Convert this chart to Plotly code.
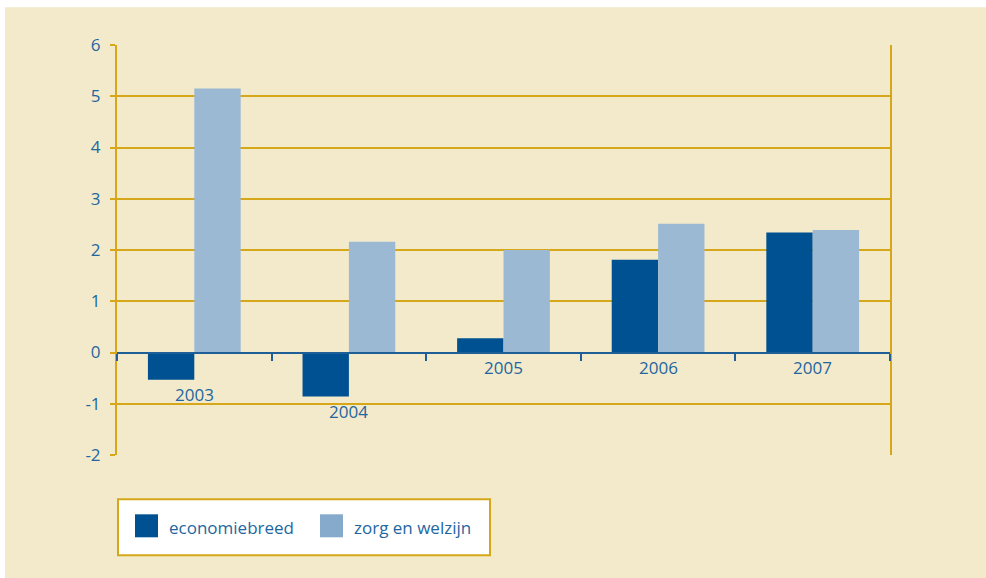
import plotly.graph_objects as go

# ---- data ----
years = ["2003", "2004", "2005", "2006", "2007"]
series_names = ["economiebreed", "zorg en welzijn"]
economiebreed = [-0.53, -0.86, 0.28, 1.81, 2.34]
zorg_en_welzijn = [5.15, 2.16, 2.00, 2.51, 2.39]
y_ticks = [-2, -1, 0, 1, 2, 3, 4, 5, 6]

# ---- styles ----
BG = "#f3eacb"
GOLD = "#d6a718"
DARK = "#005192"
LIGHT = "#9bb9d3"
LIGHT_LEG = "#85aacb"
TXT = "#2266a0"
AXIS = "#1f5f97"
FONT = "Open Sans"

W, H = 986, 578
PL, PR, PT, PB = 117, 890, 44.7, 454.7
PW = PR - PL
PH = PB - PT


def px_x(x):
    return (x - PL) / PW


def px_y(y):
    return (PB - y) / PH


fig = go.Figure()
fig.add_trace(go.Bar(x=years, y=economiebreed, name=series_names[0],
                     marker=dict(color=DARK, line=dict(width=0)), showlegend=False))
fig.add_trace(go.Bar(x=years, y=zorg_en_welzijn, name=series_names[1],
                     marker=dict(color=LIGHT, line=dict(width=0)), showlegend=False))

# category labels below the bars / zero line
for i, yr in enumerate(years):
    low = min(0, economiebreed[i], zorg_en_welzijn[i])
    fig.add_annotation(x=i, y=low, text=yr, showarrow=False, yanchor="top",
                       yshift=-1, font=dict(family=FONT, size=17, color=TXT))

shapes = [
    # beige panel (thin white border at top/left as in the reference)
    dict(type="rect", xref="paper", yref="paper", x0=px_x(5), x1=px_x(W + 2),
         y0=px_y(H + 2), y1=px_y(7), fillcolor=BG, line=dict(width=0), layer="below"),
    # legend box
    dict(type="rect", xref="paper", yref="paper", x0=px_x(118), x1=px_x(490),
         y0=px_y(555), y1=px_y(499),
         fillcolor="white", line=dict(color=GOLD, width=2), layer="above"),
]
sq = [(135, DARK), (320, LIGHT_LEG)]
for (x0, col) in sq:
    shapes.append(dict(type="rect", xref="paper", yref="paper",
                       x0=px_x(x0), x1=px_x(x0 + 23), y0=px_y(537), y1=px_y(514),
                       fillcolor=col, line=dict(width=0), layer="above"))
legend_text_x = [px_x(167), px_x(352)]
for name, tx in zip(series_names, legend_text_x):
    fig.add_annotation(xref="paper", yref="paper", x=tx, y=px_y(527),
                       text=name, showarrow=False, xanchor="left", yanchor="middle",
                       font=dict(family=FONT, size=17, color=TXT))

fig.update_layout(
    width=W, height=H,
    margin=dict(l=PL, r=W - PR, t=PT, b=H - PB, pad=0, autoexpand=False),
    paper_bgcolor="white", plot_bgcolor=BG,
    barmode="group", bargap=0.4, bargroupgap=0,
    shapes=shapes,
    font=dict(family=FONT, size=17, color=TXT),
    xaxis=dict(type="category", range=[-0.5, len(years) - 0.5], anchor="free", position=0.25,
               showline=True, linecolor=AXIS, linewidth=2,
               ticks="outside", tickson="boundaries", ticklen=7, tickwidth=2, tickcolor=AXIS,
               showticklabels=False, showgrid=False, zeroline=False),
    yaxis=dict(range=[-2, 6], tickvals=y_ticks, ticktext=[str(v) for v in y_ticks],
               showgrid=True, gridcolor=GOLD, gridwidth=1.5,
               zeroline=False,
               showline=True, mirror=True, linecolor=GOLD, linewidth=2,
               ticks="outside", ticklen=5, tickwidth=1.5, tickcolor=GOLD,
               tickfont=dict(family=FONT, size=17, color=TXT), ticklabelstandoff=6),
)

fig.write_html("out.html", config={"displayModeBar": False},
               post_script="document.body.style.margin='0px';document.body.style.overflow='hidden';")
